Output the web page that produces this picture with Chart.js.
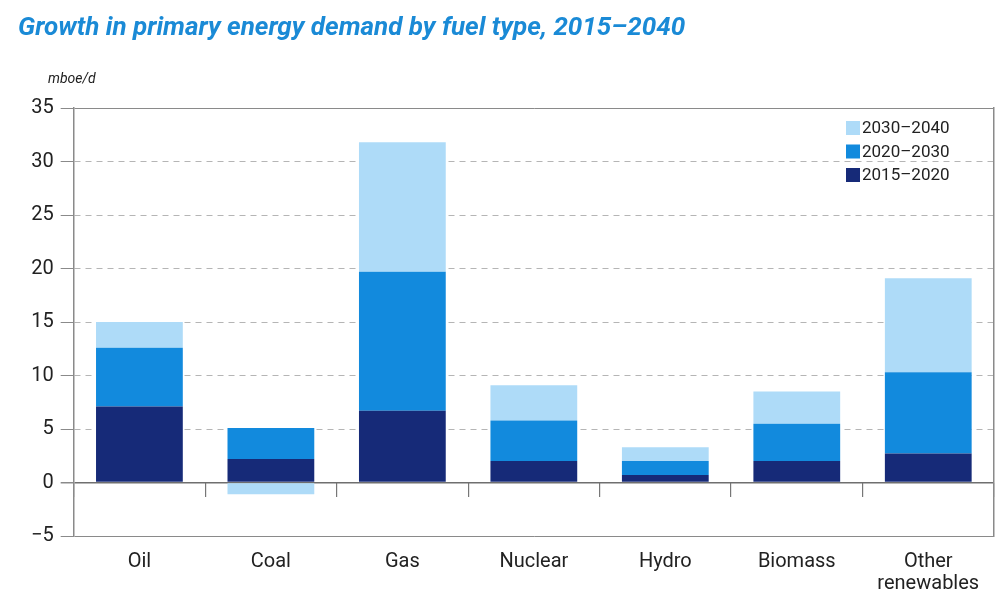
<!DOCTYPE html>
<html>
<head>
<meta charset="utf-8">
<script src="https://cdn.jsdelivr.net/npm/chart.js@4/dist/chart.umd.min.js"></script>
<style>
  html, body { margin: 0; padding: 0; background: #fff; }
  #wrap { position: relative; width: 1001px; height: 607px; overflow: hidden; }
  #title { position: absolute; left: 18px; top: 11px; font-family: Roboto, sans-serif; font-weight: 700; font-style: italic;
           font-size: 26px; color: #1a8ad6; white-space: nowrap; }
  #unit { position: absolute; left: 48px; top: 70px; font-family: Roboto, sans-serif; font-style: italic; font-size: 14px; color: #222; }
  canvas { position: absolute; left: 0; top: 0; }
</style>
</head>
<body>
<div id="wrap">
  <canvas id="c" width="1001" height="607"></canvas>
  <div id="title">Growth in primary energy demand by fuel type, 2015–2040</div>
  <div id="unit">mboe/d</div>
</div>
<script>
const categories = ["Oil", "Coal", "Gas", "Nuclear", "Hydro", "Biomass", ["Other", "renewables"]];
const seriesNames = ["2015–2020", "2020–2030", "2030–2040"];
const s2015_2020 = [7.1, 2.2, 6.7, 2.0, 0.7, 2.0, 2.7];
const s2020_2030 = [5.5, 2.9, 13.0, 3.8, 1.3, 3.5, 7.6];
const s2030_2040 = [2.4, -1.1, 12.1, 3.3, 1.3, 3.0, 8.8];
const seriesColors = ["#162a78", "#128add", "#aedbf8"];
const yTicks = { min: -5, max: 35, step: 5 };

const FONT = "Roboto, sans-serif";

const legendPlugin = {
  id: "insideLegend",
  afterDatasetsDraw(chart) {
    const ctx = chart.ctx;
    const area = chart.chartArea;
    const ds = chart.data.datasets.slice().reverse();
    ctx.save();
    ctx.font = "17px " + FONT;
    ctx.textBaseline = "middle";
    ctx.textAlign = "left";
    const x0 = area.right - 148;
    const y0 = area.top + 20;
    ds.forEach((d, i) => {
      const y = y0 + i * 23.5;
      ctx.fillStyle = d.backgroundColor;
      ctx.fillRect(x0, y - 7, 14, 14);
      ctx.fillStyle = "#222";
      ctx.fillText(d.label, x0 + 16, y + 1);
    });
    ctx.restore();
  }
};

const tickVal = (c) => (c && c.tick) ? c.tick.value : null;

new Chart(document.getElementById("c"), {
  type: "bar",
  data: {
    labels: categories,
    datasets: [
      { label: seriesNames[0], data: s2015_2020, backgroundColor: seriesColors[0] },
      { label: seriesNames[1], data: s2020_2030, backgroundColor: seriesColors[1] },
      { label: seriesNames[2], data: s2030_2040, backgroundColor: seriesColors[2] }
    ]
  },
  options: {
    responsive: false,
    animation: false,
    devicePixelRatio: 1,
    layout: { padding: { top: 108, left: 24, right: 7, bottom: -3 } },
    datasets: { bar: { categoryPercentage: 1, barPercentage: 0.66, borderWidth: 0 } },
    plugins: { legend: { display: false }, tooltip: { enabled: false }, title: { display: false } },
    scales: {
      x: {
        stacked: true,
        position: "bottom",
        grid: { display: false, drawTicks: false },
        border: { display: false },
        ticks: { color: "#222", font: { family: FONT, size: 20, lineHeight: 1.1 }, padding: 15, maxRotation: 0, autoSkip: false }
      },
      x2: {
        position: { y: 0 },
        type: "category",
        offset: true,
        grid: { display: true, offset: true, drawOnChartArea: false, drawTicks: true, tickLength: 14, color: "#777", tickColor: "#777", lineWidth: 1.2 },
        border: { display: false },
        ticks: { display: false }
      },
      y: {
        stacked: true,
        min: yTicks.min, max: yTicks.max,
        ticks: {
          stepSize: yTicks.step, color: "#222", font: { family: FONT, size: 20 }, padding: 7,
          callback: (v) => String(v).replace("-", "−")
        },
        grid: {
          color: (c) => {
            const v = tickVal(c);
            if (v === 0) return "#6f6f6f";
            if (v === 35 || v === -5) return "#8a8a8a";
            return "#b5b5b5";
          },
          lineWidth: (c) => (tickVal(c) === 0 ? 1.5 : 1),
          tickColor: "#8a8a8a", tickLength: 13, tickBorderDash: []
        },
        border: {
          display: true, color: "#8a8a8a", width: 1.5,
          dash: (c) => {
            const v = tickVal(c);
            if (v === null || v === 0 || v === 35 || v === -5) return [];
            return [6, 5];
          }
        }
      },
      yR: {
        position: "right",
        min: yTicks.min, max: yTicks.max,
        grid: { drawOnChartArea: false, drawTicks: false },
        ticks: { display: false },
        border: { display: true, color: "#8a8a8a", width: 1.5 }
      }
    }
  },
  plugins: [legendPlugin]
});
</script>
</body>
</html>
